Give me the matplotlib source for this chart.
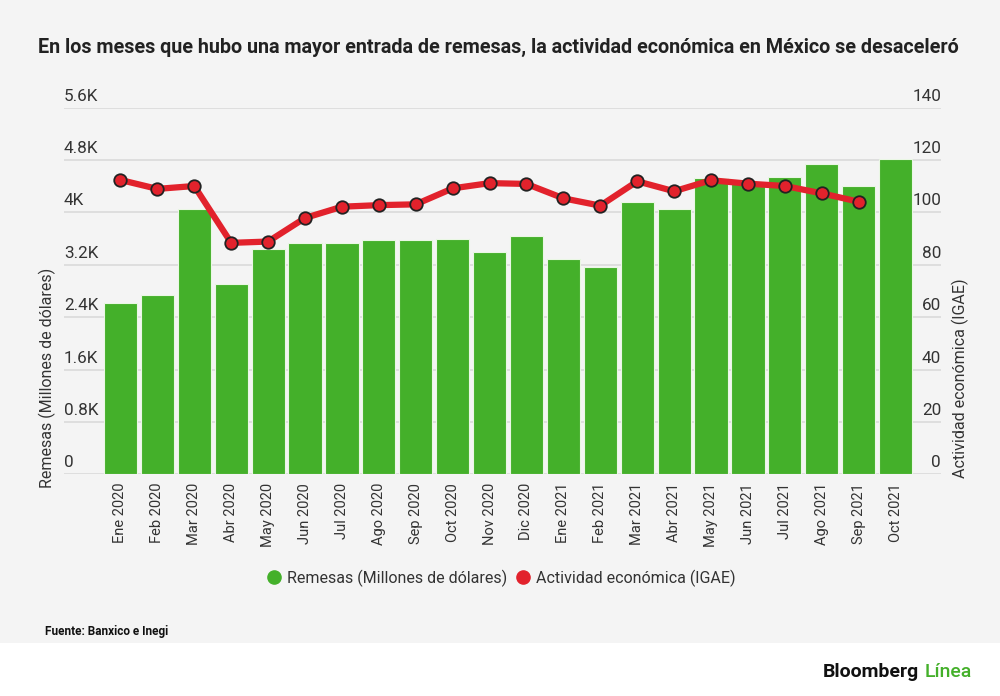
import matplotlib
matplotlib.use("Agg")
import matplotlib.pyplot as plt
from matplotlib.patches import Rectangle
from matplotlib.lines import Line2D
import matplotlib.transforms as mtransforms

plt.rcParams['font.family'] = ['Roboto', 'DejaVu Sans']

months = ["Ene 2020", "Feb 2020", "Mar 2020", "Abr 2020", "May 2020", "Jun 2020",
          "Jul 2020", "Ago 2020", "Sep 2020", "Oct 2020", "Nov 2020", "Dic 2020",
          "Ene 2021", "Feb 2021", "Mar 2021", "Abr 2021", "May 2021", "Jun 2021",
          "Jul 2021", "Ago 2021", "Sep 2021", "Oct 2021"]
remesas = [2617, 2735, 4052, 2914, 3440, 3530, 3530, 3573, 3573, 3593, 3394, 3644,
           3286, 3164, 4160, 4052, 4532, 4470, 4547, 4742, 4405, 4818]
igae = [112.4, 109.0, 110.1, 88.4, 88.9, 97.9, 102.2, 102.8, 103.1, 109.2, 111.2, 110.9,
        105.4, 102.6, 111.9, 108.1, 112.3, 111.0, 110.1, 107.3, 104.1]
left_ticks = [0, 800, 1600, 2400, 3200, 4000, 4800, 5600]
left_labels = ["0", "0.8K", "1.6K", "2.4K", "3.2K", "4K", "4.8K", "5.6K"]
right_ticks = [0, 20, 40, 60, 80, 100, 120, 140]

title = "En los meses que hubo una mayor entrada de remesas, la actividad económica en México se desaceleró"
GREEN = "#44b02a"
RED = "#e2222c"
TXT = "#333333"

fig = plt.figure(figsize=(10, 6.96), dpi=100)
fig.patch.set_facecolor("white")
fig.patches.append(Rectangle((0, 53/696), 1, 1 - 53/696, transform=fig.transFigure,
                             facecolor="#f4f4f4", edgecolor="none", zorder=-10))

ax = fig.add_axes([0.064, 0.3183, 0.877, 0.527])
ax.set_facecolor("none")
x = list(range(len(months)))
ax.bar(x, remesas, width=0.9, color=GREEN, edgecolor="#eaf7e4", linewidth=0.8, zorder=2)
ax.set_xlim(-1.53, 22.23)
ax.set_ylim(0, 5600)
ax.set_yticks(left_ticks)
ax.set_yticklabels([])
ax.grid(axis="y", color="#dcdcdc", linewidth=1.3, zorder=0)
ax.tick_params(axis="y", length=0)
ax.set_xticks(x)
ax.set_xticklabels(months, rotation=90, fontsize=10.5, color=TXT)
ax.tick_params(axis="x", length=0, pad=6)
for s in ax.spines.values():
    s.set_visible(False)

ax2 = ax.twinx()
ax2.set_ylim(0, 140)
ax2.set_yticks(right_ticks)
ax2.set_yticklabels([])
ax2.tick_params(axis="y", length=0)
for s in ax2.spines.values():
    s.set_visible(False)
ax2.plot(range(len(igae)), igae, color=RED, linewidth=4.5, marker="o", markersize=9,
         markerfacecolor=RED, markeredgecolor="#222222", markeredgewidth=1.3, zorder=5)

# tick labels placed above gridlines
tl = mtransforms.blended_transform_factory(ax.transAxes, ax.transData)
tl = tl + mtransforms.ScaledTranslation(0, 4/100, fig.dpi_scale_trans)
for v, lab in zip(left_ticks, left_labels):
    ax.text(0.0, v, lab, transform=tl, ha="left", va="bottom", fontsize=12.3, color=TXT)
tr = mtransforms.blended_transform_factory(ax2.transAxes, ax2.transData)
tr = tr + mtransforms.ScaledTranslation(0, 4/100, fig.dpi_scale_trans)
for v in right_ticks:
    ax2.text(1.0, v, str(v), transform=tr, ha="right", va="bottom", fontsize=12.3, color=TXT)

fig.text(0.047, 0.457, "Remesas (Millones de dólares)", rotation=90, ha="center", va="center",
         fontsize=11.5, color=TXT)
fig.text(0.960, 0.457, "Actividad económica (IGAE)", rotation=90, ha="center", va="center",
         fontsize=11.5, color=TXT)

fig.text(0.038, 1 - 47/696, title, ha="left", va="center", fontsize=14.2, fontweight="bold",
         color="#222222")

handles = [Line2D([], [], linestyle="none", marker="o", markersize=9.5, color=GREEN),
           Line2D([], [], linestyle="none", marker="o", markersize=9.5, color=RED)]
fig.legend(handles, ["Remesas (Millones de dólares)", "Actividad económica (IGAE)"],
           loc="center", bbox_to_anchor=(0.5, 1 - 578/696), ncol=2, frameon=False,
           fontsize=11.5, handletextpad=0.2, columnspacing=0.4, handlelength=1.2,
           labelcolor=TXT)

fig.text(0.045, 1 - 632/696, "Fuente: Banxico e Inegi", ha="left", va="center",
         fontsize=8.5, fontweight="bold", color="#111111")

t1 = fig.text(0.823, 1 - 672/696, "Bloomberg", ha="left", va="center", fontsize=14,
              fontweight="bold", color="#111111")
fig.canvas.draw()
bb = t1.get_window_extent()
fig.text((bb.x1 + 5) / 1000, 1 - 672/696, "Línea", ha="left", va="center", fontsize=14,
         fontweight="medium", color=GREEN)

fig.savefig("out.png", dpi=100, facecolor=fig.get_facecolor())
